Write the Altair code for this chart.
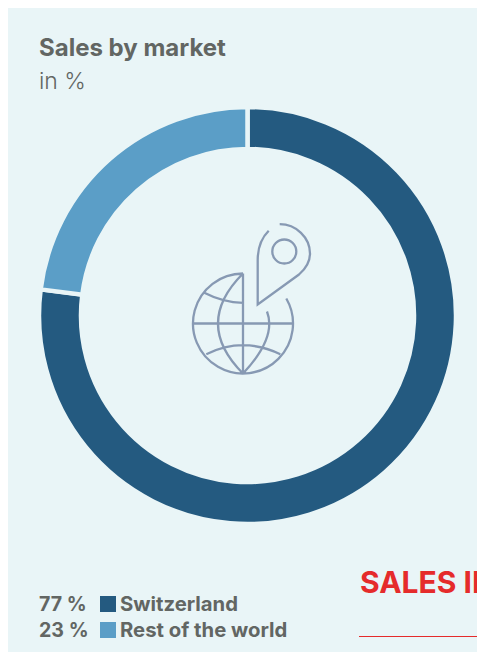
import altair as alt
import pandas as pd

markets = ["Switzerland", "Rest of the world"]
shares = [77, 23]
share_labels = ["77 %", "23 %"]
colors = ["#245a80", "#5b9ec7"]
title = "Sales by market"
subtitle = "in %"
cut_heading = "SALES IN"

BG = "#e9f5f7"
GREY = "#626663"
ICON = "#8799b3"
RED = "#e52b2b"

icon_path = (
    "M0,-50 A50,50 0 1 0 43.3,-25 "
    "M0,-50 L0,50 M-50,0 L50,0 "
    "M0,-50 Q-50,0 0,50 "
    "M24,-12 Q34,14 0,50 "
    "M-38.7,-30.7 Q-20,-21 0,-20.7 "
    "M-36.7,30.7 Q0,12.7 37.3,30.7 "
    "M25.7,-92.7 C18,-85 14.7,-75 14.7,-63.3 L14.7,-19 L56,-49 "
    "C63,-55 67,-62 67,-70 C67,-86 53,-99.3 36.7,-99.3 "
    "M53.3,-72 A12,12 0 1 0 29.3,-72 A12,12 0 1 0 53.3,-72"
)

df = pd.DataFrame({
    "market": markets,
    "share": shares,
    "label": share_labels,
    "rank": [0, 1],
})

color_enc = alt.Color(
    "market:N",
    scale=alt.Scale(domain=markets, range=colors),
    legend=None,
)
y_enc = alt.Y(
    "market:N",
    scale=alt.Scale(type="point", domain=markets, range=[603, 629], padding=0),
    axis=None,
)

ring = alt.Chart(df).mark_arc(
    radius=208.5, radius2=166.5, stroke=BG, strokeWidth=4.5
).encode(
    theta=alt.Theta("share:Q", stack=True),
    order=alt.Order("rank:O"),
    color=color_enc,
    x=alt.value(239.5),
    y=alt.value(307.5),
)

icon = alt.Chart(pd.DataFrame({"name": ["globe"]})).mark_point(
    shape=icon_path, size=4, filled=False, stroke=ICON, strokeWidth=2.3, opacity=1
).encode(x=alt.value(235), y=alt.value(315.5))

head = alt.Chart(pd.DataFrame({"t": [title]})).mark_text(
    font="Inter", fontSize=24, fontWeight=700, color=GREY, align="left", baseline="alphabetic"
).encode(text="t:N", x=alt.value(31), y=alt.value(47.5))

sub = alt.Chart(pd.DataFrame({"t": [subtitle]})).mark_text(
    font="Inter", fontSize=23, fontWeight=300, color=GREY, align="left", baseline="alphabetic"
).encode(text="t:N", x=alt.value(31), y=alt.value(81))

pct = alt.Chart(df).mark_text(
    font="Inter", fontSize=19.6, fontWeight=700, color=GREY, align="left", baseline="alphabetic"
).encode(text="label:N", x=alt.value(31), y=y_enc)

swatch = alt.Chart(df).mark_point(
    shape="square", size=256, filled=True, opacity=1, yOffset=-7
).encode(color=color_enc, x=alt.value(100), y=y_enc)

names = alt.Chart(df).mark_text(
    font="Inter", fontSize=20.3, fontWeight=700, color=GREY, align="left", baseline="alphabetic"
).encode(text="market:N", x=alt.value(112), y=y_enc)

cut = alt.Chart(pd.DataFrame({"t": [cut_heading]})).mark_text(
    font="Inter", fontSize=30, fontWeight=700, color=RED, align="left", baseline="alphabetic"
).encode(text="t:N", x=alt.value(352), y=alt.value(585))

rule = alt.Chart(pd.DataFrame({"n": [1]})).mark_rule(color=RED, strokeWidth=1).encode(
    x=alt.value(351), x2=alt.value(469), y=alt.value(628.5)
)

chart = alt.layer(ring, icon, head, sub, swatch, pct, names, cut, rule).properties(
    width=469,
    height=644,
    padding=0,
    background=BG,
    autosize=alt.AutoSizeParams(type="none"),
).configure_view(stroke=None)

chart.save("out.html", embed_options={"renderer": "svg", "actions": False})
